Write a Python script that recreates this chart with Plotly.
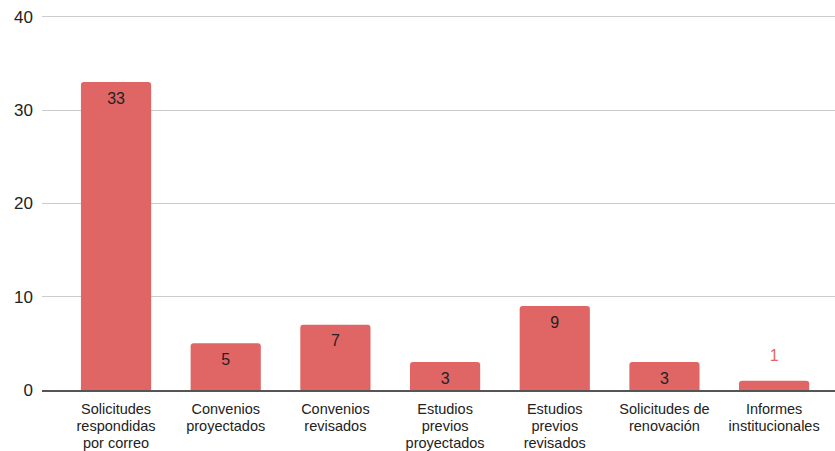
import plotly.graph_objects as go

categories = ["Solicitudes<br>respondidas<br>por correo", "Convenios<br>proyectados", "Convenios<br>revisados",
              "Estudios<br>previos<br>proyectados", "Estudios<br>previos<br>revisados",
              "Solicitudes de<br>renovación", "Informes<br>institucionales"]
values = [33, 5, 7, 3, 9, 3, 1]
y_ticks = [0, 10, 20, 30, 40]

bar_color = "#e06666"
x_idx = list(range(len(categories)))
inside = [v >= 3 for v in values]
text_pos = ["bottom center" if i else "top center" for i in inside]
text_col = ["#222222" if i else bar_color for i in inside]
mk_size = [14 if i else 24 for i in inside]

tick_text = ["<br>".join("<span style='font-size:14.5px'>%s</span>" % ln for ln in c.split("<br>"))
             for c in categories]

fig = go.Figure()
fig.add_trace(go.Bar(
    x=x_idx, y=values,
    marker=dict(color=bar_color, cornerradius=3, line=dict(width=0)),
    hoverinfo="skip",
))
fig.add_trace(go.Scatter(
    x=x_idx, y=values, mode="markers+text", text=[str(v) for v in values],
    textposition=text_pos,
    textfont=dict(color=text_col, size=16, family="Liberation Sans, Arial"),
    marker=dict(size=mk_size, opacity=0), cliponaxis=False,
))
fig.update_layout(
    width=835, height=451, margin=dict(l=42, r=0, t=12, b=61),
    plot_bgcolor="white", paper_bgcolor="white", bargap=0.36, showlegend=False,
    font=dict(family="Liberation Sans, Arial", color="#222222"),
)
fig.update_xaxes(range=[-0.675, 6.555], tickvals=x_idx, ticktext=tick_text,
                 showgrid=False, showline=True, linecolor="#555555", linewidth=1.5, automargin=False,
                 ticks="", tickfont=dict(size=13, color="#222222"), ticklabelstandoff=7)
fig.update_yaxes(range=[0, 40.5], tickvals=y_ticks, showgrid=True, gridcolor="#cccccc", gridwidth=1,
                 zeroline=False, automargin=False, tickfont=dict(size=17, color="#222222"),
                 ticks="", ticklabelstandoff=8)
fig.write_html("out.html", config={"displayModeBar": False},
               post_script="document.body.style.margin='0';")
